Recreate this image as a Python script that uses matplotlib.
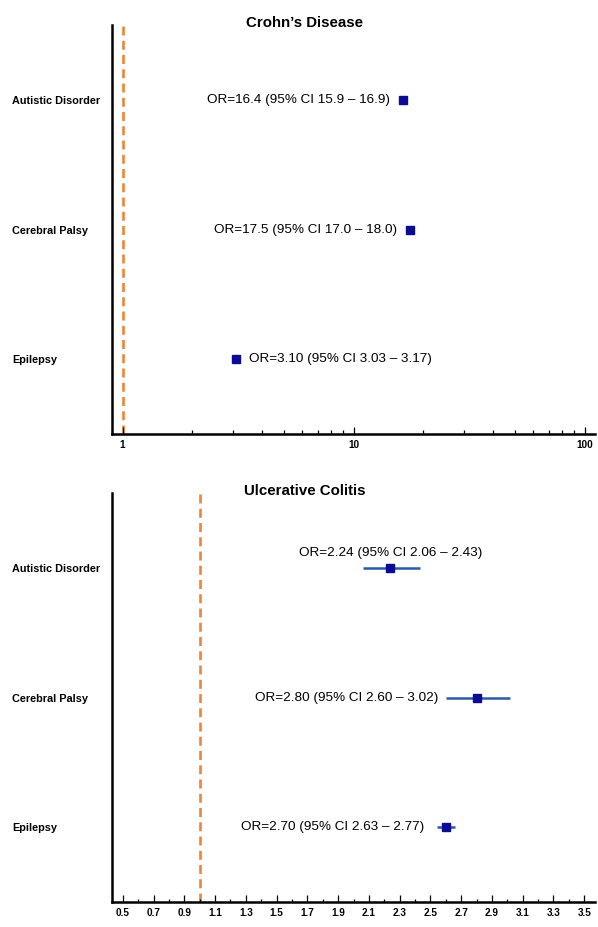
import matplotlib
matplotlib.use("Agg")
import matplotlib.pyplot as plt
from matplotlib.ticker import FixedLocator, NullFormatter, LogLocator
import numpy as np

plt.rcParams['font.family'] = ['Liberation Sans', 'DejaVu Sans']

# ---------------- data ----------------
categories = ["Autistic Disorder", "Cerebral Palsy", "Epilepsy"]
row_pos = [3, 2, 1]

cd_or = [16.4, 17.5, 3.10]
cd_lo = [15.9, 17.0, 3.03]
cd_hi = [16.9, 18.0, 3.17]
cd_labels = ["OR=16.4 (95% CI 15.9 \u2013 16.9)",
             "OR=17.5 (95% CI 17.0 \u2013 18.0)",
             "OR=3.10 (95% CI 3.03 \u2013 3.17)"]

uc_or = [2.24, 2.80, 2.60]
uc_lo = [2.06, 2.60, 2.54]
uc_hi = [2.43, 3.02, 2.66]
uc_labels = ["OR=2.24 (95% CI 2.06 \u2013 2.43)",
             "OR=2.80 (95% CI 2.60 \u2013 3.02)",
             "OR=2.70 (95% CI 2.63 \u2013 2.77)"]

uc_ticks = [0.5, 0.7, 0.9, 1.1, 1.3, 1.5, 1.7, 1.9, 2.1, 2.3, 2.5, 2.7, 2.9, 3.1, 3.3, 3.5]
uc_minor = [0.6, 0.8, 1.0, 1.2, 1.4, 1.6, 1.8, 2.0, 2.2, 2.4, 2.6, 2.8, 3.0, 3.2, 3.4]
cd_ticks = [1, 10, 100]

# ---------------- style ----------------
W, H = 598, 927
MARKER_C = '#0b0b94'
LINE_C = '#2b5aa8'
REF_C = '#EE8435'
REF_LS = (0, (3.4, 2.0))

fig = plt.figure(figsize=(W/100, H/100), dpi=100)

def px_axes(left, top, right, bottom):
    return fig.add_axes([left/W, 1-bottom/H, (right-left)/W, (bottom-top)/H])

ax1 = px_axes(112, 25, 595, 434)
ax2 = px_axes(112, 493, 595, 902)

def style(ax, minor_len):
    for s in ['top', 'right']:
        ax.spines[s].set_visible(False)
    for s in ['left', 'bottom']:
        ax.spines[s].set_linewidth(1.8)
        ax.spines[s].set_color('black')
    ax.set_ylim(0.425, 3.575)
    ax.set_yticks(row_pos)
    ax.set_yticklabels(categories, fontsize=7.8, fontweight='bold')
    for t in ax.get_yticklabels():
        t.set_ha('left')
    ax.tick_params(axis='y', length=0, pad=72)
    ax.tick_params(axis='x', which='major', direction='in', length=5, width=0.9,
                   labelsize=7.2, pad=4)
    ax.tick_params(axis='x', which='minor', direction='in', length=minor_len, width=0.9)
    for t in ax.get_xticklabels():
        t.set_fontweight('bold')

# ---- top: Crohn's disease (log scale) ----
ax1.set_xscale('log')
ax1.set_xlim(0.9, 111)
ax1.xaxis.set_major_locator(FixedLocator(cd_ticks))
ax1.xaxis.set_minor_locator(LogLocator(base=10, subs=np.arange(2, 10)))
ax1.xaxis.set_minor_formatter(NullFormatter())
ax1.set_xticklabels([str(t) for t in cd_ticks])
style(ax1, 3.2)
ax1.axvline(1, color=REF_C, lw=1.9, ls=REF_LS, zorder=1)
ax1.errorbar(cd_or, row_pos,
             xerr=[np.array(cd_or) - np.array(cd_lo), np.array(cd_hi) - np.array(cd_or)],
             fmt='s', color=LINE_C, mfc=MARKER_C, mec=MARKER_C, ms=6.3, lw=1.8,
             capsize=0, zorder=3)
cd_place = [(-9.4, 0, 'right'), (-8.9, 0, 'right'), (9.4, 0, 'left')]
for x, y, lab, (dx, dy, ha) in zip(cd_or, row_pos, cd_labels, cd_place):
    ax1.annotate(lab, (x, y), xytext=(dx, dy), textcoords='offset points',
                 ha=ha, va='center', fontsize=9.7)

# ---- bottom: Ulcerative colitis (linear) ----
ax2.set_xlim(0.43, 3.57)
ax2.xaxis.set_major_locator(FixedLocator(uc_ticks))
ax2.xaxis.set_minor_locator(FixedLocator(uc_minor))
ax2.set_xticklabels([f"{t:.1f}" for t in uc_ticks])
style(ax2, 2.5)
ax2.axvline(1, color=REF_C, lw=1.9, ls=REF_LS, zorder=1)
ax2.errorbar(uc_or, row_pos,
             xerr=[np.array(uc_or) - np.array(uc_lo), np.array(uc_hi) - np.array(uc_or)],
             fmt='s', color=LINE_C, mfc=MARKER_C, mec=MARKER_C, ms=6.3, lw=1.8,
             capsize=0, zorder=3)
# (anchor: 'or' or 'lo', dx, dy, ha)
uc_place = [('or', 0, 10.8, 'center'), ('lo', -5.5, 0, 'right'), ('lo', -9.0, 0, 'right')]
for x, lo, y, lab, (anc, dx, dy, ha) in zip(uc_or, uc_lo, row_pos, uc_labels, uc_place):
    ax = x if anc == 'or' else lo
    ax2.annotate(lab, (ax, y), xytext=(dx, dy), textcoords='offset points',
                 ha=ha, va='center', fontsize=9.7)

# titles
fig.text(305/W, 1-22.7/H, "Crohn\u2019s Disease", ha='center', va='center',
         fontsize=10.8, fontweight='bold')
fig.text(305/W, 1-490.7/H, "Ulcerative Colitis", ha='center', va='center',
         fontsize=10.8, fontweight='bold')

fig.savefig("out.png", dpi=100)
